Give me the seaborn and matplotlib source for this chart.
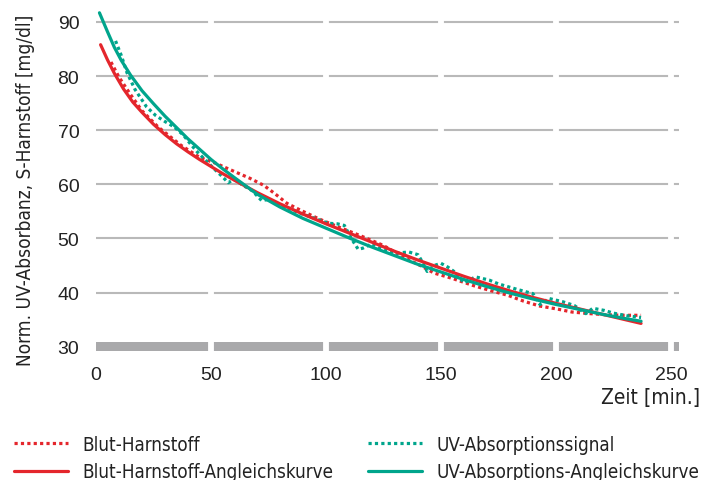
import matplotlib
matplotlib.use("Agg")
import matplotlib.pyplot as plt
import numpy as np
import pandas as pd
import seaborn as sns
from matplotlib import font_manager
from matplotlib.lines import Line2D

# ---------------- data ----------------
blut_x = [6.5, 10, 15, 20, 27, 37, 45, 52, 60, 67, 73, 78, 83, 89, 97, 105, 115,
          125, 133, 141, 147, 155, 164, 172, 179, 186, 193, 200, 207, 215, 222, 229, 237]
blut_y = [82.6, 79.8, 76.6, 73.6, 70.6, 67.2, 65.0, 63.9, 62.4, 61.1, 59.8, 58.2, 56.5,
          55.2, 53.6, 52.2, 50.5, 48.7, 46.7, 45.0, 43.6, 42.6, 41.3, 40.3, 39.5, 38.4,
          37.5, 37.0, 36.4, 36.1, 35.9, 35.8, 35.8]

blut_fit_x = [2, 5, 8, 12, 16, 20, 25, 30, 35, 40, 45, 50, 55, 60, 70, 80, 90, 100,
              110, 120, 130, 140, 150, 160, 170, 180, 190, 200, 210, 220, 230, 237]
blut_fit_y = [85.8, 83.0, 80.5, 77.6, 75.2, 73.3, 71.1, 69.2, 67.5, 66.0, 64.6, 63.3,
              62.0, 60.8, 58.5, 56.4, 54.5, 52.7, 51.0, 49.3, 47.6, 46.0, 44.5, 43.0,
              41.6, 40.3, 39.1, 38.0, 37.0, 36.0, 35.0, 34.3]

uv_x = [8.5, 11, 13.5, 17, 22, 26, 30, 34, 38, 41, 44, 48, 52, 55, 57.5, 60, 64, 68,
        72, 75, 79, 84, 89, 96, 101, 105, 108, 111, 114, 116, 120, 126, 131, 136, 140,
        142, 144, 147, 150, 153, 156, 160, 165, 171, 175, 183, 190, 193, 197, 203, 208,
        213, 216, 221, 225, 231, 237]
uv_y = [86.5, 83.8, 80.6, 77.5, 74.3, 72.7, 71.6, 70.6, 69.1, 67.5, 66.0, 64.3, 62.6,
        61.4, 60.3, 60.9, 59.8, 58.8, 57.0, 57.2, 56.4, 55.5, 54.6, 53.6, 52.8, 52.7,
        52.4, 50.0, 48.0, 48.2, 49.0, 47.8, 47.3, 47.5, 47.0, 45.6, 43.9, 45.0, 45.4,
        44.7, 43.8, 41.8, 42.9, 42.3, 41.6, 40.6, 39.8, 37.8, 38.9, 38.3, 37.6, 36.1,
        37.1, 36.7, 36.2, 35.7, 35.4]

uv_fit_x = [1.5, 5, 8, 11, 15, 20, 25, 30, 35, 40, 45, 50, 55, 60, 70, 80, 90, 100,
            110, 120, 130, 140, 150, 160, 170, 180, 190, 200, 210, 220, 230, 237]
uv_fit_y = [91.7, 88.2, 85.3, 82.9, 80.2, 77.3, 74.9, 72.6, 70.5, 68.4, 66.5, 64.6,
            62.9, 61.3, 58.2, 55.8, 53.7, 51.9, 50.1, 48.4, 46.8, 45.2, 43.8, 42.4,
            41.1, 39.9, 38.8, 37.8, 36.9, 36.0, 35.2, 34.7]

x_ticks = [0, 50, 100, 150, 200, 250]
y_ticks = [30, 40, 50, 60, 70, 80, 90]
labels = ["Blut-Harnstoff", "Blut-Harnstoff-Angleichskurve",
          "UV-Absorptionssignal", "UV-Absorptions-Angleichskurve"]
x_label = "Zeit [min.]"
y_label = "Norm. UV-Absorbanz, S-Harnstoff [mg/dl]"

RED = "#e4262c"
TEAL = "#00a58c"
GRID = "#b9b9b9"
BAND = "#a9a9ab"
TXT = "#222222"

# ---------------- styling ----------------
sns.set_theme(style="white")
avail = {f.name for f in font_manager.fontManager.ttflist}
if "Liberation Sans Narrow" in avail:
    cond = font_manager.FontProperties(family="Liberation Sans Narrow")
else:
    cond = font_manager.FontProperties(family="DejaVu Sans", stretch="condensed")
plt.rcParams["font.family"] = ["Liberation Sans", "DejaVu Sans"]

fig = plt.figure(figsize=(7.02, 4.81), dpi=100)
ax = fig.add_axes([96 / 702, 1 - 352 / 481, (679 - 96) / 702, (352 - 6.75) / 481])
ax.set_xlim(0.7, 253.5)
ax.set_ylim(29.2, 93)

# horizontal grid and grey base band
for yv in y_ticks[1:]:
    ax.axhline(yv, color=GRID, lw=1.5, zorder=1)
ax.axhspan(29.25, 30.9, color=BAND, lw=0, zorder=1)
# white separators at the x ticks
for xv in x_ticks[1:]:
    ax.axvline(xv, color="white", lw=4.2, zorder=2)

df_b = pd.DataFrame({"x": blut_x, "y": blut_y})
df_bf = pd.DataFrame({"x": blut_fit_x, "y": blut_fit_y})
df_u = pd.DataFrame({"x": uv_x, "y": uv_y})
df_uf = pd.DataFrame({"x": uv_fit_x, "y": uv_fit_y})

dot = (0, (1, 1))
sns.lineplot(data=df_b, x="x", y="y", ax=ax, color=RED, lw=2.3, linestyle=dot,
             estimator=None, sort=False, zorder=3)
sns.lineplot(data=df_u, x="x", y="y", ax=ax, color=TEAL, lw=2.3, linestyle=dot,
             estimator=None, sort=False, zorder=3)
sns.lineplot(data=df_bf, x="x", y="y", ax=ax, color=RED, lw=2.3,
             estimator=None, sort=False, zorder=4)
sns.lineplot(data=df_uf, x="x", y="y", ax=ax, color=TEAL, lw=2.3,
             estimator=None, sort=False, zorder=4)

for s in ax.spines.values():
    s.set_visible(False)
ax.set_xticks(x_ticks)
ax.set_yticks(y_ticks)
ax.tick_params(axis="both", length=0, labelsize=14, colors=TXT)
ax.tick_params(axis="x", pad=11)
ax.tick_params(axis="y", pad=12)
ax.set_xlabel("")
ax.set_ylabel("")

fig.text(700 / 702, 1 - 398 / 481, x_label, ha="right", va="center",
         fontproperties=cond, fontsize=15, color=TXT)
fig.text(26 / 702, 1 - 190 / 481, y_label, ha="center", va="center", rotation=90,
         fontproperties=cond, fontsize=13.7, color=TXT)

# legends
lp = cond.copy()
lp.set_size(13.5)
h = [Line2D([], [], color=RED, lw=2.3, linestyle=dot),
     Line2D([], [], color=RED, lw=2.3),
     Line2D([], [], color=TEAL, lw=2.3, linestyle=dot),
     Line2D([], [], color=TEAL, lw=2.3)]
kw = dict(loc="center left", frameon=False, prop=lp, handlelength=2.9,
          handletextpad=0.75, labelspacing=0.45, borderpad=0, borderaxespad=0)
leg1 = fig.legend(h[:2], labels[:2], bbox_to_anchor=(14 / 702, 1 - 459 / 481), **kw)
leg2 = fig.legend(h[2:], labels[2:], bbox_to_anchor=(368 / 702, 1 - 459 / 481), **kw)
for lg in (leg1, leg2):
    for t in lg.get_texts():
        t.set_color(TXT)

fig.savefig("out.png", dpi=100)
